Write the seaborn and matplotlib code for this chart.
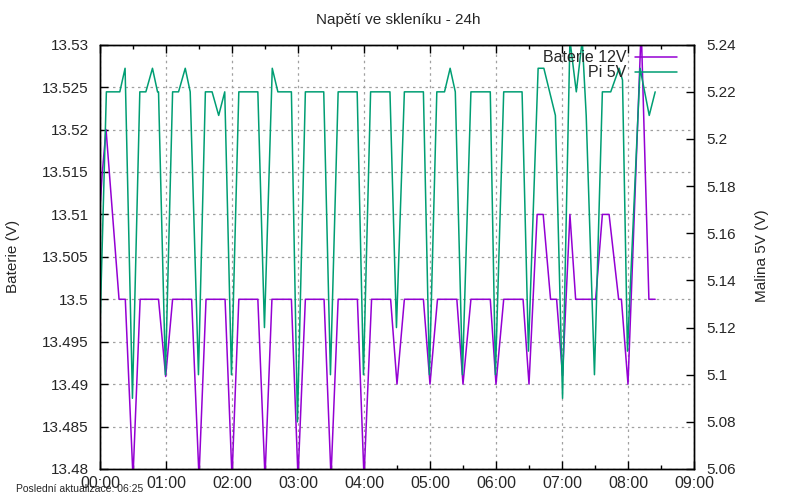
import numpy as np
import pandas as pd
import matplotlib
matplotlib.use("Agg")
import matplotlib.pyplot as plt
from matplotlib.lines import Line2D
import seaborn as sns

# times in minutes after 00:00
bat_t = [0, 2, 5.5, 17.3, 23, 30, 36.5,
         53.2, 59.7, 66,
         83.3, 90, 96.4,
         113.7, 120, 126.2,
         143.5, 150, 156.3,
         174, 180, 186.7,
         203.7, 210, 216.5,
         234, 240, 246.9,
         264.2, 270, 276.7,
         294, 300, 306.8,
         324.4, 330, 337.2,
         354.8, 360, 367,
         384.6, 390, 397.4, 402.9, 409.6, 415.1, 420.5, 427.2, 432.4,
         450.6, 456.7, 462.8, 471.5, 474, 480, 492, 499, 504.7]
bat_v = [13.5107, 13.5148, 13.520, 13.5, 13.5, 13.479, 13.5,
         13.5, 13.4909, 13.5,
         13.5, 13.479, 13.5,
         13.5, 13.479, 13.5,
         13.5, 13.479, 13.5,
         13.5, 13.479, 13.5,
         13.5, 13.479, 13.5,
         13.5, 13.479, 13.5,
         13.5, 13.49, 13.5,
         13.5, 13.49, 13.5,
         13.5, 13.49, 13.5,
         13.5, 13.49, 13.5,
         13.5, 13.49, 13.51, 13.51, 13.5, 13.5, 13.491, 13.51, 13.5,
         13.5, 13.51, 13.51, 13.5, 13.5, 13.49, 13.532, 13.5, 13.5]

pi_t = [0, 5.8, 18, 22.8, 29.5, 36.2,
        41.7, 47.7, 52.3, 53.2, 59.5, 66,
        71.4, 77.5, 82, 89.5, 95.8,
        101.9, 107.9, 113.4, 119.5, 126.2,
        143.5, 149.5, 156.6, 161.7,
        174, 179.5, 186.7,
        203.4, 209.5, 216.5,
        233.8, 239.5, 246,
        263.6, 269.5, 276.7,
        294, 299.5, 306.2,
        313.2, 318.3, 323, 329.5, 337.2,
        354.8, 359.5, 367,
        383.7, 389.5, 398.3, 403.5, 414, 420.5, 427.2, 433, 438.4, 442,
        449.5, 456.7, 464.3, 471.9, 475, 479.5, 491, 499.3, 504.7]
pi_v = [5.12, 5.22, 5.22, 5.23, 5.09, 5.22,
        5.22, 5.23, 5.22, 5.22, 5.10, 5.22,
        5.22, 5.23, 5.22, 5.10, 5.22,
        5.22, 5.21, 5.22, 5.10, 5.22,
        5.22, 5.12, 5.23, 5.22,
        5.22, 5.08, 5.22,
        5.22, 5.10, 5.22,
        5.22, 5.10, 5.22,
        5.22, 5.12, 5.22,
        5.22, 5.10, 5.22,
        5.22, 5.23, 5.22, 5.10, 5.22,
        5.22, 5.10, 5.22,
        5.22, 5.11, 5.23, 5.23, 5.21, 5.09, 5.242, 5.22, 5.242, 5.21,
        5.10, 5.22, 5.22, 5.23, 5.225, 5.11, 5.23, 5.21, 5.22]

hour_ticks = [0, 60, 120, 180, 240, 300, 360, 420, 480, 540]
hour_labels = ["00:00", "01:00", "02:00", "03:00", "04:00",
               "05:00", "06:00", "07:00", "08:00", "09:00"]
bat_ticks = [13.48, 13.485, 13.49, 13.495, 13.5, 13.505, 13.51,
             13.515, 13.52, 13.525, 13.53]
pi_ticks = [5.06, 5.08, 5.10, 5.12, 5.14, 5.16, 5.18, 5.20, 5.22, 5.24]

bat = pd.DataFrame({"t": bat_t, "v": bat_v})
pi = pd.DataFrame({"t": pi_t, "v": pi_v})

sns.set_theme(style="white")
plt.rcParams["font.family"] = ["Liberation Sans", "DejaVu Sans"]

purple = "#9400d3"
green = "#009e73"

fig = plt.figure(figsize=(8, 5), dpi=100)
ax = fig.add_axes([100 / 800, 1 - 469 / 500, 594 / 800, 424.3 / 500])
ax2 = ax.twinx()

sns.lineplot(data=bat, x="t", y="v", ax=ax, color=purple, lw=1.1)
sns.lineplot(data=pi, x="t", y="v", ax=ax2, color=green, lw=1.1)

ax.set_xlim(0, 540)
ax.set_ylim(13.48, 13.53)
ax2.set_ylim(5.06, 5.24)

ax.set_xticks(hour_ticks)
ax.set_xticklabels(hour_labels)
ax.set_xticks([t + 30 for t in hour_ticks[:-1]], minor=True)
ax.set_yticks(bat_ticks)
ax.set_yticklabels(["%g" % v for v in bat_ticks])
ax2.set_yticks(pi_ticks)
ax2.set_yticklabels(["%g" % v for v in pi_ticks])

ax.set_xlabel("")
ax.set_ylabel("")
ax2.set_ylabel("")

ax.tick_params(axis="x", which="both", direction="in", top=True, bottom=True,
               labelsize=11.5, pad=5, color="black")
ax.tick_params(axis="x", which="major", length=6, width=1)
ax.tick_params(axis="x", which="minor", length=3, width=1)
ax.tick_params(axis="y", direction="in", left=True, right=False, length=6,
               width=1, labelsize=11, pad=8, color="black")
ax2.tick_params(axis="y", direction="in", right=True, length=6, width=1,
                labelsize=11, pad=9, color="black")

ax.grid(True, which="major", color="#a0a0a0", lw=0.9, ls=(0, (2, 3)))
for a in (ax, ax2):
    for s in a.spines.values():
        s.set_color("black")
        s.set_linewidth(1)

# key, gnuplot style (text right aligned, sample line after it)
kx_text = (626.7 - 100) / 594
kx0, kx1 = (635 - 100) / 594, (677 - 100) / 594
for label, col, ky in [("Baterie 12V", purple, 0.970), ("Pi 5V", green, 0.935)]:
    ax2.text(kx_text, ky, label, transform=ax2.transAxes, ha="right",
             va="center", fontsize=11.5)
    ax2.add_line(Line2D([kx0, kx1], [ky, ky], transform=ax2.transAxes,
                        color=col, lw=1.1))

fig.text(398 / 800, 1 - 20 / 500, "Napětí ve skleníku - 24h", ha="center",
         va="center", fontsize=11)
fig.text(13 / 800, 1 - 256 / 500, "Baterie (V)", rotation=90, ha="center",
         va="center", fontsize=11)
fig.text(762 / 800, 1 - 256 / 500, "Malina 5V (V)", rotation=90, ha="center",
         va="center", fontsize=11)
fig.text(16 / 800, 1 - 489 / 500, "Poslední aktualizace: 06:25", ha="left",
         va="center", fontsize=7.5)

fig.savefig("out.png", dpi=100)
